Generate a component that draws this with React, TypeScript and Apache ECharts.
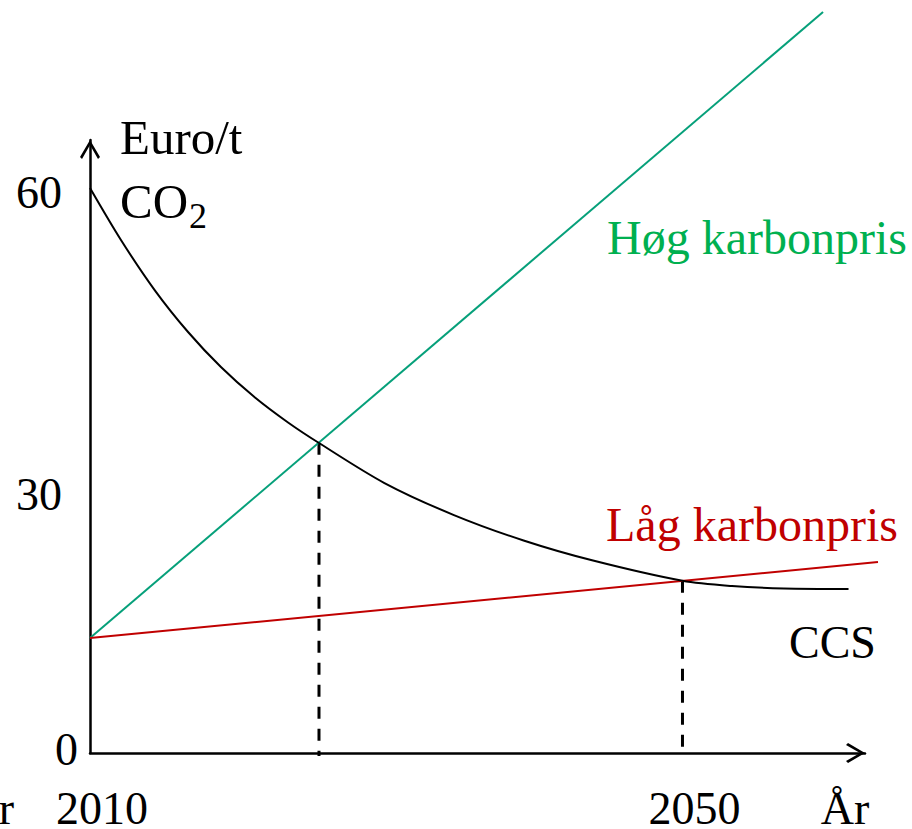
import React, { useEffect, useRef } from "react";
import * as echarts from "echarts";

// ---- data ----
const ccsYears = [2010, 2012.09, 2014.39, 2016.62, 2018.84, 2021.14, 2023.37, 2025.46, 2029.88, 2034.57, 2039.27, 2043.96, 2050, 2053.34, 2056.85, 2061.21];
const ccsCost = [60.0, 54.48, 49.11, 44.71, 40.99, 37.75, 35.1, 32.92, 28.67, 25.27, 22.57, 20.44, 18.29, 17.73, 17.47, 17.42];

const highYears = [2010, 2059.49];
const highPrice = [12.21, 78.69];

const lowYears = [2010, 2063.2];
const lowPrice = [12.21, 20.28];

const dropYears = [2025.46, 2050];
const dropTop = [32.95, 18.29];
const dropBottom = -0.32;

const xTickValues = [2010, 2050];
const xTickLabels = ["2010", "2050"];
const yLabelPositions = [0.4, 27.5, 59.5];
const yTickLabels = ["0", "30", "60"];

const xMin = 2010;
const xAxisMax = 2062.32; // end of the drawn axis arrow
const xPlotMax = 2063.47; // same scale, wider plotting area for the lines that run past the arrow
const yMin = 0;
const yMax = 65.1;

const FONT = "'Liberation Serif', 'Times New Roman', serif";
const GREEN_LINE = "#06a07a";
const GREEN_TEXT = "#00b050";
const RED = "#c00000";
const ARROW = "path://M10 0L20 17L18 19L10 5L2 19L0 17Z";

export default function App() {
  const ref = useRef<HTMLDivElement>(null);

  useEffect(() => {
    if (!ref.current) return;
    const chart = echarts.init(ref.current, undefined, { renderer: "svg" });

    const dropSeries = dropYears.map((x, i) => ({
      type: "line",
      xAxisIndex: 0,
      yAxisIndex: 0,
      data: [
        [x, dropTop[i]],
        [x, dropBottom],
      ],
      symbol: "none",
      clip: false,
      silent: true,
      z: 1,
      lineStyle: { color: "#000", width: 3, type: [12, 10] },
    }));

    const arrowLine = {
      show: true,
      lineStyle: { color: "#000", width: 2.5 },
      symbol: ["none", ARROW],
      symbolSize: [20, 19],
      symbolOffset: [0, -9.5],
    };

    chart.setOption({
      animation: false,
      grid: [
        { left: 90, right: 30, top: 140, bottom: 76, outerBoundsMode: "none", containLabel: false },
        { left: 90, right: 47, top: 140, bottom: 76, outerBoundsMode: "none", containLabel: false },
      ],
      xAxis: [
        {
          type: "value",
          gridIndex: 0,
          min: xMin,
          max: xPlotMax,
          show: false,
        },
        {
          type: "value",
          gridIndex: 1,
          min: xMin,
          max: xAxisMax,
          splitLine: { show: false },
          axisTick: { show: false },
          axisLine: arrowLine,
          axisLabel: {
            customValues: xTickValues,
            formatter: (v: number) => xTickLabels[xTickValues.indexOf(v)] ?? "",
            fontFamily: FONT,
            fontSize: 46,
            lineHeight: 30,
            color: "#000",
            margin: 55,
            verticalAlign: "middle",
            padding: [0, 0, 0, 24],
          },
        },
      ],
      yAxis: [
        {
          type: "value",
          gridIndex: 0,
          min: yMin,
          max: yMax,
          splitLine: { show: false },
          axisTick: { show: false },
          axisLine: arrowLine,
          axisLabel: {
            customValues: yLabelPositions,
            formatter: (v: number) => {
              const i = yLabelPositions.indexOf(v);
              if (i < 0) return "";
              return i === 0 ? `{z|${yTickLabels[i]}}` : `{n|${yTickLabels[i]}}`;
            },
            margin: 12,
            rich: {
              z: { fontFamily: FONT, fontSize: 46, color: "#000" },
              n: { fontFamily: FONT, fontSize: 46, color: "#000", padding: [0, 16, 0, 0] },
            },
          },
          name: "{a|Euro/t}\n{a|CO}{s|2}",
          nameLocation: "end",
          nameGap: 34.5,
          nameMoveOverlap: false,
          nameTextStyle: {
            align: "left",
            verticalAlign: "top",
            padding: [0, 0, 0, 30],
            lineHeight: 64,
            rich: {
              a: { fontFamily: FONT, fontSize: 49, color: "#000", lineHeight: 64 },
              s: { fontFamily: FONT, fontSize: 36, color: "#000", lineHeight: 30, verticalAlign: "bottom", padding: [0, 0, 0, 1] },
            },
          },
        },
        {
          type: "value",
          gridIndex: 1,
          min: yMin,
          max: yMax,
          show: false,
        },
      ],
      series: [
        ...dropSeries,
        {
          type: "line",
          name: "Høg karbonpris",
          xAxisIndex: 0,
          yAxisIndex: 0,
          data: highYears.map((x, i) => [x, highPrice[i]]),
          symbol: "none",
          clip: false,
          silent: true,
          z: 2,
          lineStyle: { color: GREEN_LINE, width: 2 },
        },
        {
          type: "line",
          name: "Låg karbonpris",
          xAxisIndex: 0,
          yAxisIndex: 0,
          data: lowYears.map((x, i) => [x, lowPrice[i]]),
          symbol: "none",
          clip: false,
          silent: true,
          z: 2,
          lineStyle: { color: RED, width: 2 },
        },
        {
          type: "line",
          name: "CCS",
          xAxisIndex: 0,
          yAxisIndex: 0,
          data: ccsYears.map((x, i) => [x, ccsCost[i]]),
          symbol: "none",
          smooth: 0.3,
          clip: false,
          silent: true,
          z: 3,
          lineStyle: { color: "#000", width: 2 },
        },
      ],
      graphic: [
        {
          type: "text",
          x: 607,
          y: 237,
          style: { text: "Høg karbonpris", fill: GREEN_TEXT, font: `48px ${FONT}`, verticalAlign: "middle" },
        },
        {
          type: "text",
          x: 606,
          y: 524,
          style: { text: "Låg karbonpris", fill: RED, font: `48px ${FONT}`, verticalAlign: "middle" },
        },
        {
          type: "text",
          x: 789,
          y: 642.5,
          style: { text: "CCS", fill: "#000", font: `46px ${FONT}`, verticalAlign: "middle" },
        },
        {
          type: "text",
          x: 845,
          y: 808.5,
          style: { text: "År", fill: "#000", font: `46px ${FONT}`, align: "center", verticalAlign: "middle", lineHeight: 30 },
        },
        {
          type: "text",
          x: 14,
          y: 808.5,
          style: { text: "År", fill: "#000", font: `46px ${FONT}`, align: "right", verticalAlign: "middle", lineHeight: 30 },
        },
      ],
    });

    return () => chart.dispose();
  }, []);

  return (
    <div
      ref={ref}
      style={{ position: "fixed", left: 0, top: 0, width: 912, height: 829, background: "#fff" }}
    />
  );
}
